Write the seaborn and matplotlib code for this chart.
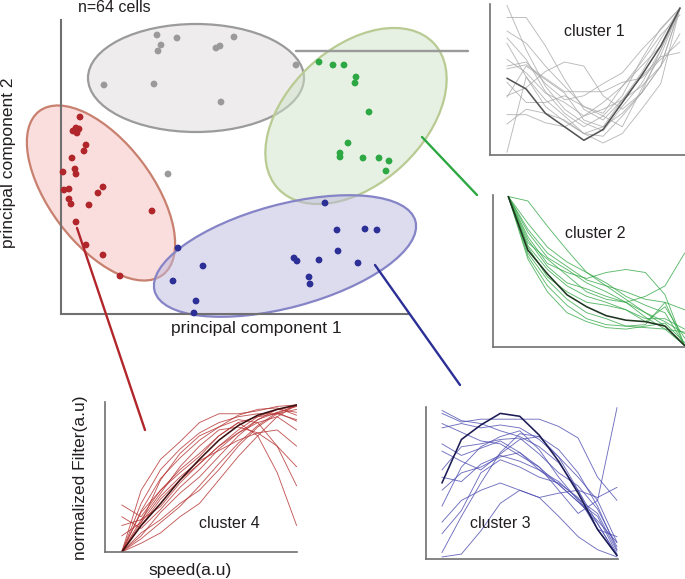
import numpy as np
import pandas as pd
import seaborn as sns
from matplotlib import pyplot as plt
from matplotlib.patches import Ellipse
from matplotlib.lines import Line2D

W, H = 685, 579

# PCA scores of the 64 cells, one array per cluster
gray_pc1 = [96, 116, 100, 97, 155, 159, 173, 235, 43, 93, 160, 107]
gray_pc2 = [279, 276, 269, 263, 266, 268, 277, 249, 229, 230, 212, 140]
green_pc1 = [258, 272, 283, 295, 294, 308, 287, 279, 279, 302, 318, 328, 325]
green_pc2 = [252, 249, 249, 237, 231, 202, 171, 161, 157, 156, 156, 153, 143]
red_pc1 = [19, 15, 18, 12, 16, 25, 23, 11, 14, 15, 2, 3, 8, 8, 10, 28, 37, 42, 91, 15, 25, 42, 59]
red_pc2 = [197, 186, 185, 183, 181, 169, 163, 156, 145, 140, 142, 124, 125, 115, 110, 109, 121, 127, 103, 92, 69, 59, 38]
blue_pc1 = [264, 276, 304, 316, 277, 297, 258, 233, 236, 248, 249, 117, 142, 112, 135, 133]
blue_pc2 = [111, 84, 85, 84, 63, 51, 54, 56, 53, 37, 30, 66, 48, 33, 13, 1]

# speed bins for the tuning curves
speed = list(range(10))

c1_mean = [.48, .40, .22, .12, .02, .10, .30, .50, .72, 1.0]
c1_cells = [
    [1.02, .69, .42, .25, .15, .09, .27, .44, .69, 1.0],
    [.93, .93, .72, .47, .25, .17, .32, .52, .77, 1.0],
    [.83, .74, .57, .42, .27, .22, .42, .57, .72, 1.0],
    [.74, .49, .27, .16, .07, .12, .32, .49, .64, .67],
    [.57, .60, .44, .32, .35, .44, .52, .69, .84, 1.0],
    [.35, .41, .53, .60, .57, .35, .25, .37, .69, 1.0],
    [.34, .57, .47, .37, .17, .12, .22, .37, .57, 1.0],
    [.21, .21, .15, .12, .20, .25, .32, .42, .57, .81],
    [-.07, .49, .32, .20, .07, .05, .20, .37, .57, 1.0],
    [.14, .25, .22, .17, .07, .0, .07, .25, .44, 1.0],
    [.62, .52, .37, .30, .20, .30, .42, .60, .80, .95],
    [.78, .62, .38, .22, .12, .20, .35, .62, .85, 1.0],
    [.45, .30, .30, .35, .27, .20, .12, .40, .65, 1.0],
    [.55, .58, .48, .38, .38, .38, .45, .48, .62, .75],
]

c2_mean = [1.0, .64, .48, .34, .26, .20, .17, .16, .13, 0.0]
c2_cells = [
    [1.0, .97, .80, .64, .49, .42, .33, .27, .22, 0.0],
    [1.0, .78, .62, .53, .44, .40, .36, .31, .29, .24],
    [1.0, .69, .58, .47, .36, .31, .29, .33, .40, .62],
    [1.0, .62, .44, .31, .22, .18, .13, .12, .11, .09],
    [1.0, .73, .55, .49, .45, .49, .51, .49, .34, 0.0],
    [1.0, .67, .51, .40, .33, .29, .24, .18, .18, .11],
    [1.0, .60, .40, .27, .18, .14, .13, .14, .29, 0.0],
    [1.0, .71, .53, .42, .38, .33, .29, .22, .13, 0.0],
    [1.0, .76, .59, .51, .42, .36, .29, .19, .11, 0.0],
    [1.0, .58, .36, .22, .16, .12, .11, .13, .15, .02],
    [1.0, .82, .66, .56, .49, .40, .31, .22, .16, .08],
    [1.0, .66, .46, .36, .29, .27, .24, .16, .26, .05],
]

c3_mean = [.51, .81, .91, .99, .97, .84, .66, .44, .19, .01]
c3_cells = [
    [1.01, .94, .92, .87, .83, .76, .65, .46, .23, .01],
    [.99, .93, .95, .95, .95, .95, .90, .82, .55, .39],
    [.89, .92, .89, .91, .89, .81, .69, .55, .39, .10],
    [.73, .66, .60, .71, .81, .83, .74, .58, .35, .05],
    [.60, .76, .78, .81, .82, .71, .58, .49, .33, .07],
    [.35, .62, .76, .83, .87, .74, .55, .39, .23, .01],
    [.24, .39, .46, .51, .46, .41, .44, .46, .41, .48],
    [.03, .28, .51, .72, .85, .83, .69, .46, .19, .01],
    [.0, .02, .18, .37, .46, .41, .28, .14, .05, .0],
    [.16, .32, .58, .67, .62, .55, .51, .41, .19, .14],
    [.46, .58, .62, .69, .72, .62, .46, .30, .39, 1.03],
    [.78, .70, .75, .80, .72, .60, .52, .40, .30, .04],
    [.55, .52, .64, .70, .66, .60, .50, .38, .28, .02],
    [.92, .86, .80, .78, .70, .62, .50, .38, .25, .10],
]

c4_mean = [0, .18, .33, .49, .63, .76, .86, .93, .97, 1.0]
c4_cells = [
    [0, .42, .63, .75, .88, .94, .94, .96, .99, 1.0],
    [0, .33, .56, .70, .81, .88, .92, .94, .94, .90],
    [0, .06, .13, .24, .33, .49, .65, .79, .92, 1.0],
    [0, .13, .22, .33, .42, .56, .72, .85, .94, 1.0],
    [0, .27, .42, .56, .67, .79, .88, .79, .54, .18],
    [0, .22, .40, .58, .72, .83, .85, .81, .72, .45],
    [.32, .24, .42, .54, .65, .79, .88, .92, .94, .97],
    [.18, .22, .31, .47, .60, .72, .83, .92, .97, .95],
    [.11, .20, .38, .51, .62, .69, .76, .81, .83, .72],
    [0, .18, .36, .49, .60, .72, .81, .88, .92, .83],
    [0, .11, .27, .40, .51, .65, .79, .90, .97, .99],
    [0, .20, .49, .67, .79, .85, .90, .88, .72, .58],
    [0, .28, .50, .64, .76, .85, .93, .97, .98, .93],
    [0, .09, .20, .31, .45, .60, .74, .86, .95, .99],
    [.24, .16, .29, .44, .56, .70, .81, .90, .95, .89],
]

# colours
dot_colors = {'1': '#9a9a9a', '2': '#2ea843', '3': '#2c2f95', '4': '#b0262b'}
ell_face = {'1': (0.87, 0.86, 0.855, 0.5), '2': (0.81, 0.89, 0.79, 0.5),
            '3': (0.74, 0.725, 0.87, 0.5), '4': (0.97, 0.74, 0.74, 0.5)}
ell_edge = {'1': '#9b9b9b', '2': '#b9cb92', '3': '#8584c6', '4': '#c8806f'}
# ellipse: centre, width, height, angle (drawn in order gray, red, green, blue)
ellipses = [('1', (135, 236), 216, 108, 0),
            ('4', (40, 121), 205, 103, -53),
            ('2', (295, 198), 213, 136, 43),
            ('3', (224, 58), 270, 103, 15)]


def px_rect(left, top, right, bottom):
    return [left / W, 1 - bottom / H, (right - left) / W, (bottom - top) / H]


def style_axes(ax, lw=1.2):
    for s in ['top', 'right']:
        ax.spines[s].set_visible(False)
    for s in ['left', 'bottom']:
        ax.spines[s].set_color('#707070')
        ax.spines[s].set_linewidth(lw)
    ax.set_xticks([])
    ax.set_yticks([])
    ax.set_xlabel('')
    ax.set_ylabel('')
    ax.patch.set_alpha(0)


def curves_frame(cells):
    rows = []
    for i, c in enumerate(cells):
        for s, v in zip(speed, c):
            rows.append((i, s, v))
    return pd.DataFrame(rows, columns=['cell', 'speed', 'filt'])


def draw_inset(rect, cells, mean, color, mean_color, xlim, ylim, label, label_xy, alpha=0.8):
    ax = fig.add_axes(rect)
    sns.lineplot(data=curves_frame(cells), x='speed', y='filt', units='cell',
                 estimator=None, color=color, lw=0.65, alpha=alpha, ax=ax, legend=False)
    sns.lineplot(x=speed, y=mean, color=mean_color, lw=1.15, ax=ax)
    ax.set_xlim(*xlim)
    ax.set_ylim(*ylim)
    style_axes(ax)
    fig.text(label_xy[0] / W, 1 - label_xy[1] / H, label, ha='center', va='center',
             fontsize=11.5, color='#231f20')
    return ax


sns.set_style('white')
plt.rcParams['font.family'] = ['Liberation Sans', 'DejaVu Sans']

fig = plt.figure(figsize=(W / 100, H / 100), dpi=100)

# main PCA panel
ax = fig.add_axes(px_rect(61, 20, 408, 314))
for key, c, w, h, a in ellipses:
    ax.add_patch(Ellipse(c, w, h, angle=a, facecolor=ell_face[key], edgecolor=ell_edge[key],
                         lw=1.6, clip_on=False, zorder=1))

pca = pd.DataFrame({
    'pc1': gray_pc1 + green_pc1 + red_pc1 + blue_pc1,
    'pc2': gray_pc2 + green_pc2 + red_pc2 + blue_pc2,
    'cluster': ['1'] * len(gray_pc1) + ['2'] * len(green_pc1) + ['4'] * len(red_pc1) + ['3'] * len(blue_pc1),
})
sns.scatterplot(data=pca, x='pc1', y='pc2', hue='cluster', palette=dot_colors, s=24,
                linewidth=0, legend=False, ax=ax, zorder=3, clip_on=False)
ax.set_xlim(0, 347)
ax.set_ylim(0, 294)
style_axes(ax, lw=1.5)

fig.text(114 / W, 1 - 8 / H, 'n=64 cells', ha='center', va='center', fontsize=11.5, color='#231f20')
fig.text(256 / W, 1 - 328 / H, 'principal component 1', ha='center', va='center', fontsize=12.5, color='#231f20')
fig.text(9 / W, 1 - 163 / H, 'principal component 2', ha='center', va='center', rotation=90,
         fontsize=12.5, color='#231f20')

# cluster insets
draw_inset(px_rect(490, 4, 685, 155), c1_cells, c1_mean, '#a8a8a8', '#555555',
           (-0.88, 9.26), (-0.089, 1.03), 'cluster 1', (594, 32))
draw_inset(px_rect(493, 195, 685, 347), c2_cells, c2_mean, '#35a848', '#1e3520',
           (-0.78, 9.02), (-0.01, 1.01), 'cluster 2', (595, 233))
draw_inset(px_rect(426, 407, 618, 559), c3_cells, c3_mean, '#4b4bb0', '#1c1c55',
           (-0.82, 9.05), (-0.014, 1.034), 'cluster 3', (500, 523))
draw_inset(px_rect(105, 402, 297, 552), c4_cells, c4_mean, '#b5302f', '#3b0f10',
           (-0.86, 9.02), (0.0, 1.02), 'cluster 4', (229, 523))

fig.text(190 / W, 1 - 570 / H, 'speed(a.u)', ha='center', va='center', fontsize=12.5, color='#231f20')
fig.text(80 / W, 1 - 478 / H, 'normalized Filter(a.u)', ha='center', va='center', rotation=90,
         fontsize=12.5, color='#231f20')

# connectors from each ellipse to its inset
connectors = [((296, 51), (468, 51), '#9a9a9a'),
              ((422, 137), (477, 195), '#2ea843'),
              ((77, 228), (145, 430), '#b0262b'),
              ((375, 265), (460, 385), '#2c2f95')]
for (x1, y1), (x2, y2), col in connectors:
    fig.add_artist(Line2D([x1 / W, x2 / W], [1 - y1 / H, 1 - y2 / H], transform=fig.transFigure,
                          color=col, lw=1.7))

fig.savefig('out.png', dpi=100)
